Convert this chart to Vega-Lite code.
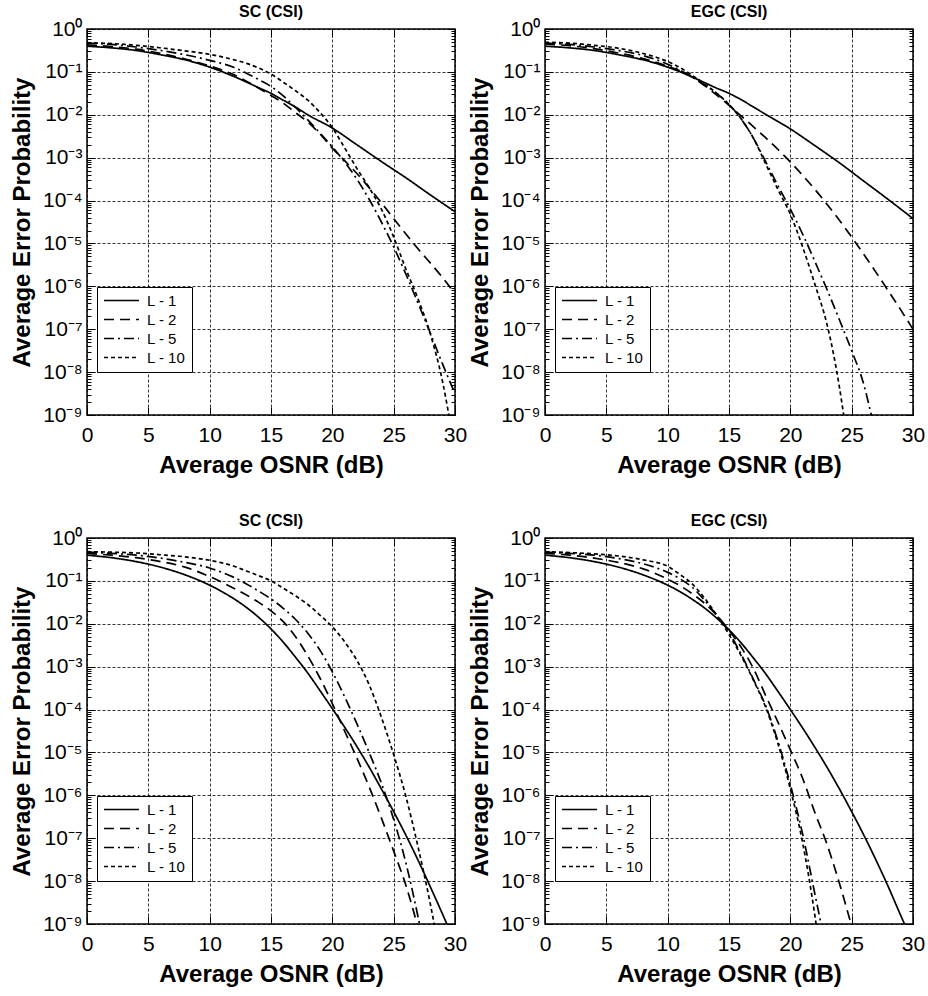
{
"$schema": "https://vega.github.io/schema/vega-lite/v6.json",
"background": "white",
"padding": {"left": 9, "top": 3, "right": 5, "bottom": 5},
"config": {
  "font": "Liberation Sans",
  "view": {"stroke": "black", "strokeWidth": 1.5},
  "axis": {"labelFont": "Liberation Sans", "labelFontSize": 21, "labelColor": "black", "titleFont": "Liberation Sans", "titleFontSize": 24, "titleFontWeight": "bold", "titleColor": "black", "tickColor": "black", "tickWidth": 1, "domain": false, "labelOverlap": false, "labelFlush": false, "gridColor": "black", "gridDash": [3, 2], "gridWidth": 0.8},
  "title": {"font": "Liberation Sans", "fontSize": 16, "fontWeight": "bold", "color": "black", "offset": -2},
  "legend": {"title": null, "orient": "none", "legendX": 10, "legendY": 258, "fillColor": "white", "strokeColor": "black", "padding": 6, "symbolType": "stroke", "symbolSize": 1225, "symbolStrokeWidth": 1.6, "symbolStrokeColor": "black", "labelFont": "Liberation Sans", "labelFontSize": 15, "labelColor": "black", "rowPadding": 3, "labelOffset": 7, "clipHeight": 15}
},
"datasets": {
"TL": [
{"L":"L - 1","x":0,"y":0.398},{"L":"L - 1","x":2,"y":0.363},{"L":"L - 1","x":4,"y":0.316},{"L":"L - 1","x":6,"y":0.251},{"L":"L - 1","x":8,"y":0.191},{"L":"L - 1","x":10,"y":0.129},{"L":"L - 1","x":12,"y":0.0776},{"L":"L - 1","x":14,"y":0.0427},{"L":"L - 1","x":15,"y":0.0316},{"L":"L - 1","x":16,"y":0.0219},{"L":"L - 1","x":17,"y":0.0151},{"L":"L - 1","x":18,"y":0.01},{"L":"L - 1","x":20,"y":0.0049},{"L":"L - 1","x":22,"y":0.002},{"L":"L - 1","x":24,"y":8.13e-4},{"L":"L - 1","x":26,"y":3.39e-4},{"L":"L - 1","x":28,"y":1.35e-4},{"L":"L - 1","x":30,"y":5.5e-5},
{"L":"L - 2","x":0,"y":0.427},{"L":"L - 2","x":2,"y":0.389},{"L":"L - 2","x":4,"y":0.339},{"L":"L - 2","x":6,"y":0.269},{"L":"L - 2","x":8,"y":0.2},{"L":"L - 2","x":10,"y":0.138},{"L":"L - 2","x":12,"y":0.0851},{"L":"L - 2","x":14,"y":0.0417},{"L":"L - 2","x":15,"y":0.0282},{"L":"L - 2","x":16,"y":0.0186},{"L":"L - 2","x":17,"y":0.0112},{"L":"L - 2","x":18,"y":0.00676},{"L":"L - 2","x":19,"y":0.00355},{"L":"L - 2","x":20,"y":0.00166},{"L":"L - 2","x":21,"y":8.51e-4},{"L":"L - 2","x":22,"y":4.27e-4},{"L":"L - 2","x":23,"y":2e-4},{"L":"L - 2","x":24,"y":8.91e-5},{"L":"L - 2","x":25,"y":3.8e-5},{"L":"L - 2","x":26,"y":1.66e-5},{"L":"L - 2","x":27,"y":7.41e-6},{"L":"L - 2","x":28,"y":3.47e-6},{"L":"L - 2","x":29,"y":1.58e-6},{"L":"L - 2","x":30,"y":6.76e-7},
{"L":"L - 5","x":0,"y":0.468},{"L":"L - 5","x":2,"y":0.437},{"L":"L - 5","x":4,"y":0.38},{"L":"L - 5","x":6,"y":0.316},{"L":"L - 5","x":8,"y":0.251},{"L":"L - 5","x":10,"y":0.186},{"L":"L - 5","x":12,"y":0.126},{"L":"L - 5","x":13,"y":0.0933},{"L":"L - 5","x":14,"y":0.0661},{"L":"L - 5","x":15,"y":0.0457},{"L":"L - 5","x":16,"y":0.0275},{"L":"L - 5","x":17,"y":0.0148},{"L":"L - 5","x":18,"y":0.00759},{"L":"L - 5","x":19,"y":0.00372},{"L":"L - 5","x":20,"y":0.00178},{"L":"L - 5","x":21,"y":7.94e-4},{"L":"L - 5","x":22,"y":3.16e-4},{"L":"L - 5","x":23,"y":1.07e-4},{"L":"L - 5","x":24,"y":3.16e-5},{"L":"L - 5","x":25,"y":8.32e-6},{"L":"L - 5","x":26,"y":1.91e-6},{"L":"L - 5","x":27,"y":3.98e-7},{"L":"L - 5","x":28,"y":7.94e-8},{"L":"L - 5","x":29,"y":1.51e-8},{"L":"L - 5","x":30,"y":3.16e-9},
{"L":"L - 10","x":0,"y":0.479},{"L":"L - 10","x":2,"y":0.457},{"L":"L - 10","x":4,"y":0.417},{"L":"L - 10","x":6,"y":0.363},{"L":"L - 10","x":8,"y":0.309},{"L":"L - 10","x":10,"y":0.257},{"L":"L - 10","x":12,"y":0.191},{"L":"L - 10","x":13,"y":0.158},{"L":"L - 10","x":14,"y":0.123},{"L":"L - 10","x":15,"y":0.0891},{"L":"L - 10","x":16,"y":0.0575},{"L":"L - 10","x":17,"y":0.0363},{"L":"L - 10","x":18,"y":0.0219},{"L":"L - 10","x":19,"y":0.0112},{"L":"L - 10","x":20,"y":0.00501},{"L":"L - 10","x":21,"y":0.0017},{"L":"L - 10","x":22,"y":5.62e-4},{"L":"L - 10","x":23,"y":2e-4},{"L":"L - 10","x":24,"y":6.31e-5},{"L":"L - 10","x":25,"y":1.41e-5},{"L":"L - 10","x":26,"y":2.51e-6},{"L":"L - 10","x":27,"y":5.01e-7},{"L":"L - 10","x":28,"y":7.59e-8},{"L":"L - 10","x":29,"y":5.75e-9},{"L":"L - 10","x":29.5,"y":1e-9},{"L":"L - 10","x":30,"y":1.58e-10}
],
"TR": [
{"L":"L - 1","x":0,"y":0.398},{"L":"L - 1","x":2,"y":0.363},{"L":"L - 1","x":4,"y":0.316},{"L":"L - 1","x":6,"y":0.251},{"L":"L - 1","x":8,"y":0.191},{"L":"L - 1","x":10,"y":0.129},{"L":"L - 1","x":12,"y":0.0759},{"L":"L - 1","x":13,"y":0.0562},{"L":"L - 1","x":14,"y":0.0417},{"L":"L - 1","x":15,"y":0.0316},{"L":"L - 1","x":16,"y":0.0224},{"L":"L - 1","x":17,"y":0.0151},{"L":"L - 1","x":18,"y":0.0102},{"L":"L - 1","x":20,"y":0.00468},{"L":"L - 1","x":22,"y":0.00191},{"L":"L - 1","x":24,"y":7.59e-4},{"L":"L - 1","x":26,"y":2.82e-4},{"L":"L - 1","x":28,"y":1.05e-4},{"L":"L - 1","x":30,"y":3.8e-5},
{"L":"L - 2","x":0,"y":0.447},{"L":"L - 2","x":2,"y":0.407},{"L":"L - 2","x":4,"y":0.347},{"L":"L - 2","x":6,"y":0.275},{"L":"L - 2","x":8,"y":0.204},{"L":"L - 2","x":10,"y":0.135},{"L":"L - 2","x":12,"y":0.0759},{"L":"L - 2","x":13,"y":0.0479},{"L":"L - 2","x":14,"y":0.0288},{"L":"L - 2","x":15,"y":0.0166},{"L":"L - 2","x":16,"y":0.00933},{"L":"L - 2","x":17,"y":0.00525},{"L":"L - 2","x":18,"y":0.00288},{"L":"L - 2","x":19,"y":0.00155},{"L":"L - 2","x":20,"y":7.94e-4},{"L":"L - 2","x":21,"y":3.89e-4},{"L":"L - 2","x":22,"y":1.82e-4},{"L":"L - 2","x":23,"y":8.13e-5},{"L":"L - 2","x":24,"y":3.47e-5},{"L":"L - 2","x":25,"y":1.41e-5},{"L":"L - 2","x":26,"y":5.5e-6},{"L":"L - 2","x":27,"y":2.09e-6},{"L":"L - 2","x":28,"y":7.76e-7},{"L":"L - 2","x":29,"y":2.82e-7},{"L":"L - 2","x":30,"y":1e-7},
{"L":"L - 5","x":0,"y":0.468},{"L":"L - 5","x":2,"y":0.437},{"L":"L - 5","x":4,"y":0.38},{"L":"L - 5","x":6,"y":0.316},{"L":"L - 5","x":8,"y":0.24},{"L":"L - 5","x":10,"y":0.151},{"L":"L - 5","x":11,"y":0.11},{"L":"L - 5","x":12,"y":0.0759},{"L":"L - 5","x":13,"y":0.0501},{"L":"L - 5","x":14,"y":0.0316},{"L":"L - 5","x":15,"y":0.0174},{"L":"L - 5","x":16,"y":0.00794},{"L":"L - 5","x":17,"y":0.00282},{"L":"L - 5","x":18,"y":7.94e-4},{"L":"L - 5","x":19,"y":2.19e-4},{"L":"L - 5","x":20,"y":6.31e-5},{"L":"L - 5","x":21,"y":1.66e-5},{"L":"L - 5","x":22,"y":3.8e-6},{"L":"L - 5","x":23,"y":8.32e-7},{"L":"L - 5","x":24,"y":1.66e-7},{"L":"L - 5","x":25,"y":3.16e-8},{"L":"L - 5","x":26,"y":5.01e-9},{"L":"L - 5","x":26.6,"y":1e-9},{"L":"L - 5","x":27,"y":3.16e-10},
{"L":"L - 10","x":0,"y":0.49},{"L":"L - 10","x":2,"y":0.468},{"L":"L - 10","x":4,"y":0.417},{"L":"L - 10","x":6,"y":0.355},{"L":"L - 10","x":8,"y":0.269},{"L":"L - 10","x":10,"y":0.174},{"L":"L - 10","x":11,"y":0.126},{"L":"L - 10","x":12,"y":0.0832},{"L":"L - 10","x":13,"y":0.0525},{"L":"L - 10","x":14,"y":0.0316},{"L":"L - 10","x":15,"y":0.0174},{"L":"L - 10","x":16,"y":0.00794},{"L":"L - 10","x":17,"y":0.00282},{"L":"L - 10","x":18,"y":7.08e-4},{"L":"L - 10","x":19,"y":1.78e-4},{"L":"L - 10","x":20,"y":4.79e-5},{"L":"L - 10","x":21,"y":8.32e-6},{"L":"L - 10","x":22,"y":1.12e-6},{"L":"L - 10","x":23,"y":1.26e-7},{"L":"L - 10","x":23.5,"y":2.82e-8},{"L":"L - 10","x":24,"y":4.47e-9},{"L":"L - 10","x":24.5,"y":5.01e-10}
],
"BL": [
{"L":"L - 1","x":0,"y":0.398},{"L":"L - 1","x":2,"y":0.347},{"L":"L - 1","x":4,"y":0.282},{"L":"L - 1","x":6,"y":0.209},{"L":"L - 1","x":8,"y":0.138},{"L":"L - 1","x":10,"y":0.0794},{"L":"L - 1","x":11,"y":0.0562},{"L":"L - 1","x":12,"y":0.038},{"L":"L - 1","x":13,"y":0.024},{"L":"L - 1","x":14,"y":0.0141},{"L":"L - 1","x":15,"y":0.00759},{"L":"L - 1","x":16,"y":0.00372},{"L":"L - 1","x":17,"y":0.00166},{"L":"L - 1","x":18,"y":7.08e-4},{"L":"L - 1","x":19,"y":2.75e-4},{"L":"L - 1","x":20,"y":1.05e-4},{"L":"L - 1","x":21,"y":3.89e-5},{"L":"L - 1","x":22,"y":1.38e-5},{"L":"L - 1","x":23,"y":4.57e-6},{"L":"L - 1","x":24,"y":1.41e-6},{"L":"L - 1","x":25,"y":4.17e-7},{"L":"L - 1","x":26,"y":1.17e-7},{"L":"L - 1","x":27,"y":3.02e-8},{"L":"L - 1","x":28,"y":7.24e-9},{"L":"L - 1","x":29,"y":1.66e-9},{"L":"L - 1","x":30,"y":3.63e-10},
{"L":"L - 2","x":0,"y":0.437},{"L":"L - 2","x":2,"y":0.398},{"L":"L - 2","x":4,"y":0.347},{"L":"L - 2","x":6,"y":0.282},{"L":"L - 2","x":8,"y":0.209},{"L":"L - 2","x":10,"y":0.126},{"L":"L - 2","x":11,"y":0.0933},{"L":"L - 2","x":12,"y":0.0661},{"L":"L - 2","x":13,"y":0.0468},{"L":"L - 2","x":14,"y":0.0316},{"L":"L - 2","x":15,"y":0.02},{"L":"L - 2","x":16,"y":0.0112},{"L":"L - 2","x":17,"y":0.00501},{"L":"L - 2","x":18,"y":0.00178},{"L":"L - 2","x":19,"y":5.37e-4},{"L":"L - 2","x":20,"y":1.38e-4},{"L":"L - 2","x":21,"y":3.16e-5},{"L":"L - 2","x":22,"y":7.41e-6},{"L":"L - 2","x":23,"y":1.58e-6},{"L":"L - 2","x":24,"y":2.95e-7},{"L":"L - 2","x":25,"y":5.01e-8},{"L":"L - 2","x":26,"y":7.94e-9},{"L":"L - 2","x":27,"y":7.94e-10},
{"L":"L - 5","x":0,"y":0.468},{"L":"L - 5","x":2,"y":0.437},{"L":"L - 5","x":4,"y":0.398},{"L":"L - 5","x":6,"y":0.339},{"L":"L - 5","x":8,"y":0.269},{"L":"L - 5","x":10,"y":0.2},{"L":"L - 5","x":11,"y":0.158},{"L":"L - 5","x":12,"y":0.12},{"L":"L - 5","x":13,"y":0.0851},{"L":"L - 5","x":14,"y":0.0575},{"L":"L - 5","x":15,"y":0.038},{"L":"L - 5","x":16,"y":0.0229},{"L":"L - 5","x":17,"y":0.0126},{"L":"L - 5","x":18,"y":0.00603},{"L":"L - 5","x":19,"y":0.0024},{"L":"L - 5","x":20,"y":7.59e-4},{"L":"L - 5","x":21,"y":2e-4},{"L":"L - 5","x":22,"y":4.68e-5},{"L":"L - 5","x":23,"y":1e-5},{"L":"L - 5","x":24,"y":1.91e-6},{"L":"L - 5","x":25,"y":2.75e-7},{"L":"L - 5","x":26,"y":2.63e-8},{"L":"L - 5","x":27,"y":1.41e-9},{"L":"L - 5","x":27.5,"y":2.82e-10},
{"L":"L - 10","x":0,"y":0.479},{"L":"L - 10","x":2,"y":0.468},{"L":"L - 10","x":4,"y":0.447},{"L":"L - 10","x":6,"y":0.407},{"L":"L - 10","x":8,"y":0.363},{"L":"L - 10","x":10,"y":0.302},{"L":"L - 10","x":11,"y":0.263},{"L":"L - 10","x":12,"y":0.219},{"L":"L - 10","x":13,"y":0.17},{"L":"L - 10","x":14,"y":0.132},{"L":"L - 10","x":15,"y":0.1},{"L":"L - 10","x":16,"y":0.0676},{"L":"L - 10","x":17,"y":0.0447},{"L":"L - 10","x":18,"y":0.0282},{"L":"L - 10","x":19,"y":0.0158},{"L":"L - 10","x":20,"y":0.00851},{"L":"L - 10","x":21,"y":0.0038},{"L":"L - 10","x":22,"y":0.00141},{"L":"L - 10","x":23,"y":3.8e-4},{"L":"L - 10","x":24,"y":6.61e-5},{"L":"L - 10","x":25,"y":8.91e-6},{"L":"L - 10","x":26,"y":9.33e-7},{"L":"L - 10","x":27,"y":6.03e-8},{"L":"L - 10","x":28,"y":2.82e-9},{"L":"L - 10","x":28.5,"y":5.01e-10}
],
"BR": [
{"L":"L - 1","x":0,"y":0.398},{"L":"L - 1","x":2,"y":0.347},{"L":"L - 1","x":4,"y":0.282},{"L":"L - 1","x":6,"y":0.209},{"L":"L - 1","x":8,"y":0.138},{"L":"L - 1","x":10,"y":0.0794},{"L":"L - 1","x":11,"y":0.0562},{"L":"L - 1","x":12,"y":0.0372},{"L":"L - 1","x":13,"y":0.0234},{"L":"L - 1","x":14,"y":0.0135},{"L":"L - 1","x":15,"y":0.00724},{"L":"L - 1","x":16,"y":0.00355},{"L":"L - 1","x":17,"y":0.00158},{"L":"L - 1","x":18,"y":6.76e-4},{"L":"L - 1","x":19,"y":2.63e-4},{"L":"L - 1","x":20,"y":1e-4},{"L":"L - 1","x":21,"y":3.72e-5},{"L":"L - 1","x":22,"y":1.32e-5},{"L":"L - 1","x":23,"y":4.47e-6},{"L":"L - 1","x":24,"y":1.41e-6},{"L":"L - 1","x":25,"y":4.17e-7},{"L":"L - 1","x":26,"y":1.17e-7},{"L":"L - 1","x":27,"y":3.02e-8},{"L":"L - 1","x":28,"y":7.24e-9},{"L":"L - 1","x":29,"y":1.58e-9},{"L":"L - 1","x":30,"y":3.55e-10},
{"L":"L - 2","x":0,"y":0.437},{"L":"L - 2","x":2,"y":0.398},{"L":"L - 2","x":4,"y":0.339},{"L":"L - 2","x":6,"y":0.269},{"L":"L - 2","x":8,"y":0.191},{"L":"L - 2","x":10,"y":0.11},{"L":"L - 2","x":11,"y":0.0776},{"L":"L - 2","x":12,"y":0.0501},{"L":"L - 2","x":13,"y":0.0302},{"L":"L - 2","x":14,"y":0.0158},{"L":"L - 2","x":15,"y":0.00708},{"L":"L - 2","x":16,"y":0.00282},{"L":"L - 2","x":17,"y":8.91e-4},{"L":"L - 2","x":18,"y":2.09e-4},{"L":"L - 2","x":19,"y":5.01e-5},{"L":"L - 2","x":20,"y":1.15e-5},{"L":"L - 2","x":21,"y":2.51e-6},{"L":"L - 2","x":22,"y":3.98e-7},{"L":"L - 2","x":23,"y":7.08e-8},{"L":"L - 2","x":24,"y":8.91e-9},{"L":"L - 2","x":25,"y":8.91e-10},
{"L":"L - 5","x":0,"y":0.468},{"L":"L - 5","x":2,"y":0.437},{"L":"L - 5","x":4,"y":0.398},{"L":"L - 5","x":6,"y":0.331},{"L":"L - 5","x":8,"y":0.251},{"L":"L - 5","x":10,"y":0.158},{"L":"L - 5","x":11,"y":0.112},{"L":"L - 5","x":12,"y":0.0708},{"L":"L - 5","x":13,"y":0.0355},{"L":"L - 5","x":14,"y":0.0158},{"L":"L - 5","x":15,"y":0.00631},{"L":"L - 5","x":16,"y":0.00191},{"L":"L - 5","x":17,"y":5.01e-4},{"L":"L - 5","x":18,"y":1.2e-4},{"L":"L - 5","x":19,"y":1.78e-5},{"L":"L - 5","x":20,"y":1.78e-6},{"L":"L - 5","x":21,"y":1.26e-7},{"L":"L - 5","x":22,"y":5.01e-9},{"L":"L - 5","x":22.5,"y":1e-9},{"L":"L - 5","x":23,"y":1.58e-10},
{"L":"L - 10","x":0,"y":0.479},{"L":"L - 10","x":2,"y":0.457},{"L":"L - 10","x":4,"y":0.427},{"L":"L - 10","x":6,"y":0.38},{"L":"L - 10","x":8,"y":0.309},{"L":"L - 10","x":10,"y":0.219},{"L":"L - 10","x":11,"y":0.141},{"L":"L - 10","x":12,"y":0.0851},{"L":"L - 10","x":13,"y":0.0398},{"L":"L - 10","x":14,"y":0.0158},{"L":"L - 10","x":15,"y":0.00562},{"L":"L - 10","x":16,"y":0.00178},{"L":"L - 10","x":17,"y":4.79e-4},{"L":"L - 10","x":18,"y":1.12e-4},{"L":"L - 10","x":19,"y":1.58e-5},{"L":"L - 10","x":20,"y":1.41e-6},{"L":"L - 10","x":21,"y":7.94e-8},{"L":"L - 10","x":22,"y":1.58e-9},{"L":"L - 10","x":22.2,"y":6.31e-10}
]
},
"spacing": 34,
"resolve": {"scale": {"strokeDash": "independent", "x": "independent", "y": "independent"}, "legend": {"strokeDash": "independent"}},
"vconcat": [
{"hconcat": [
  {"width": 368, "height": 386, "title": "SC (CSI)", "data": {"name": "TL"},
   "layer": [
    {"mark": {"type": "line", "clip": true, "interpolate": "monotone", "color": "black", "strokeWidth": 1.7, "strokeCap": "butt"},
     "encoding": {
      "x": {"field": "x", "type": "quantitative", "scale": {"domain": [0, 30], "nice": false, "zero": false}, "axis": {"title": "Average OSNR (dB)", "titlePadding": 8, "values": [0,5,10,15,20,25,30], "tickSize": -8, "labelPadding": 17, "grid": true}},
      "y": {"field": "y", "type": "quantitative", "scale": {"type": "log", "domain": [1e-9, 1], "nice": false}, "axis": {"title": "Average Error Probability", "titlePadding": 8, "values": [1e-9,2e-9,3e-9,4e-9,5e-9,6e-9,7e-9,8e-9,9e-9,1e-8,2e-8,3e-8,4e-8,5e-8,6e-8,7e-8,8e-8,9e-8,1e-7,2e-7,3e-7,4e-7,5e-7,6e-7,7e-7,8e-7,9e-7,1e-6,2e-6,3e-6,4e-6,5e-6,6e-6,7e-6,8e-6,9e-6,1e-5,2e-5,3e-5,4e-5,5e-5,6e-5,7e-5,8e-5,9e-5,1e-4,2e-4,3e-4,4e-4,5e-4,6e-4,7e-4,8e-4,9e-4,0.001,0.002,0.003,0.004,0.005,0.006,0.007,0.008,0.009,0.01,0.02,0.03,0.04,0.05,0.06,0.07,0.08,0.09,0.1,0.2,0.3,0.4,0.5,0.6,0.7,0.8,0.9,1], "labelExpr": "abs(log(datum.value)/LN10-round(log(datum.value)/LN10))<0.001 ? '10' + (datum.value < 0.5 ? '⁻' : '') + substring('⁰¹²³⁴⁵⁶⁷⁸⁹', abs(round(log(datum.value)/LN10)), abs(round(log(datum.value)/LN10))+1) : ''", "tickSize": {"condition": {"test": "abs(log(datum.value)/LN10-round(log(datum.value)/LN10))<0.001", "value": -8}, "value": -4}, "gridOpacity": {"condition": {"test": "abs(log(datum.value)/LN10-round(log(datum.value)/LN10))<0.001", "value": 1}, "value": 0}, "grid": true, "labelPadding": 13}},
      "strokeDash": {"field": "L", "type": "nominal", "scale": {"domain": ["L - 1","L - 2","L - 5","L - 10"], "range": [[1,0],[10,6],[10,4,2,4],[4,3]]}}
     }},
    {"mark": {"type": "line", "opacity": 0, "clip": true},
     "encoding": {
      "x": {"field": "x", "type": "quantitative", "scale": {"domain": [0, 30], "nice": false, "zero": false}, "axis": {"orient": "top", "title": null, "labels": false, "grid": false, "values": [0,5,10,15,20,25,30], "tickSize": -8}},
      "y": {"field": "y", "type": "quantitative", "scale": {"type": "log", "domain": [1e-9, 1], "nice": false}, "axis": {"orient": "right", "title": null, "labels": false, "grid": false, "values": [1e-9,2e-9,3e-9,4e-9,5e-9,6e-9,7e-9,8e-9,9e-9,1e-8,2e-8,3e-8,4e-8,5e-8,6e-8,7e-8,8e-8,9e-8,1e-7,2e-7,3e-7,4e-7,5e-7,6e-7,7e-7,8e-7,9e-7,1e-6,2e-6,3e-6,4e-6,5e-6,6e-6,7e-6,8e-6,9e-6,1e-5,2e-5,3e-5,4e-5,5e-5,6e-5,7e-5,8e-5,9e-5,1e-4,2e-4,3e-4,4e-4,5e-4,6e-4,7e-4,8e-4,9e-4,0.001,0.002,0.003,0.004,0.005,0.006,0.007,0.008,0.009,0.01,0.02,0.03,0.04,0.05,0.06,0.07,0.08,0.09,0.1,0.2,0.3,0.4,0.5,0.6,0.7,0.8,0.9,1], "tickSize": {"condition": {"test": "abs(log(datum.value)/LN10-round(log(datum.value)/LN10))<0.001", "value": -8}, "value": -4}}},
      "detail": {"field": "L"}
     }}
   ],
   "resolve": {"axis": {"x": "independent", "y": "independent"}}
  },
  {"width": 368, "height": 386, "title": "EGC (CSI)", "data": {"name": "TR"},
   "layer": [
    {"mark": {"type": "line", "clip": true, "interpolate": "monotone", "color": "black", "strokeWidth": 1.7, "strokeCap": "butt"},
     "encoding": {
      "x": {"field": "x", "type": "quantitative", "scale": {"domain": [0, 30], "nice": false, "zero": false}, "axis": {"title": "Average OSNR (dB)", "titlePadding": 8, "values": [0,5,10,15,20,25,30], "tickSize": -8, "labelPadding": 17, "grid": true}},
      "y": {"field": "y", "type": "quantitative", "scale": {"type": "log", "domain": [1e-9, 1], "nice": false}, "axis": {"title": "Average Error Probability", "titlePadding": 8, "values": [1e-9,2e-9,3e-9,4e-9,5e-9,6e-9,7e-9,8e-9,9e-9,1e-8,2e-8,3e-8,4e-8,5e-8,6e-8,7e-8,8e-8,9e-8,1e-7,2e-7,3e-7,4e-7,5e-7,6e-7,7e-7,8e-7,9e-7,1e-6,2e-6,3e-6,4e-6,5e-6,6e-6,7e-6,8e-6,9e-6,1e-5,2e-5,3e-5,4e-5,5e-5,6e-5,7e-5,8e-5,9e-5,1e-4,2e-4,3e-4,4e-4,5e-4,6e-4,7e-4,8e-4,9e-4,0.001,0.002,0.003,0.004,0.005,0.006,0.007,0.008,0.009,0.01,0.02,0.03,0.04,0.05,0.06,0.07,0.08,0.09,0.1,0.2,0.3,0.4,0.5,0.6,0.7,0.8,0.9,1], "labelExpr": "abs(log(datum.value)/LN10-round(log(datum.value)/LN10))<0.001 ? '10' + (datum.value < 0.5 ? '⁻' : '') + substring('⁰¹²³⁴⁵⁶⁷⁸⁹', abs(round(log(datum.value)/LN10)), abs(round(log(datum.value)/LN10))+1) : ''", "tickSize": {"condition": {"test": "abs(log(datum.value)/LN10-round(log(datum.value)/LN10))<0.001", "value": -8}, "value": -4}, "gridOpacity": {"condition": {"test": "abs(log(datum.value)/LN10-round(log(datum.value)/LN10))<0.001", "value": 1}, "value": 0}, "grid": true, "labelPadding": 13}},
      "strokeDash": {"field": "L", "type": "nominal", "scale": {"domain": ["L - 1","L - 2","L - 5","L - 10"], "range": [[1,0],[10,6],[10,4,2,4],[4,3]]}}
     }},
    {"mark": {"type": "line", "opacity": 0, "clip": true},
     "encoding": {
      "x": {"field": "x", "type": "quantitative", "scale": {"domain": [0, 30], "nice": false, "zero": false}, "axis": {"orient": "top", "title": null, "labels": false, "grid": false, "values": [0,5,10,15,20,25,30], "tickSize": -8}},
      "y": {"field": "y", "type": "quantitative", "scale": {"type": "log", "domain": [1e-9, 1], "nice": false}, "axis": {"orient": "right", "title": null, "labels": false, "grid": false, "values": [1e-9,2e-9,3e-9,4e-9,5e-9,6e-9,7e-9,8e-9,9e-9,1e-8,2e-8,3e-8,4e-8,5e-8,6e-8,7e-8,8e-8,9e-8,1e-7,2e-7,3e-7,4e-7,5e-7,6e-7,7e-7,8e-7,9e-7,1e-6,2e-6,3e-6,4e-6,5e-6,6e-6,7e-6,8e-6,9e-6,1e-5,2e-5,3e-5,4e-5,5e-5,6e-5,7e-5,8e-5,9e-5,1e-4,2e-4,3e-4,4e-4,5e-4,6e-4,7e-4,8e-4,9e-4,0.001,0.002,0.003,0.004,0.005,0.006,0.007,0.008,0.009,0.01,0.02,0.03,0.04,0.05,0.06,0.07,0.08,0.09,0.1,0.2,0.3,0.4,0.5,0.6,0.7,0.8,0.9,1], "tickSize": {"condition": {"test": "abs(log(datum.value)/LN10-round(log(datum.value)/LN10))<0.001", "value": -8}, "value": -4}}},
      "detail": {"field": "L"}
     }}
   ],
   "resolve": {"axis": {"x": "independent", "y": "independent"}}
  }
 ],
 "spacing": 90, "bounds": "flush",
 "resolve": {"scale": {"strokeDash": "independent", "x": "independent", "y": "independent"}, "legend": {"strokeDash": "independent"}}
},
{"hconcat": [
  {"width": 368, "height": 386, "title": "SC (CSI)", "data": {"name": "BL"},
   "layer": [
    {"mark": {"type": "line", "clip": true, "interpolate": "monotone", "color": "black", "strokeWidth": 1.7, "strokeCap": "butt"},
     "encoding": {
      "x": {"field": "x", "type": "quantitative", "scale": {"domain": [0, 30], "nice": false, "zero": false}, "axis": {"title": "Average OSNR (dB)", "titlePadding": 8, "values": [0,5,10,15,20,25,30], "tickSize": -8, "labelPadding": 17, "grid": true}},
      "y": {"field": "y", "type": "quantitative", "scale": {"type": "log", "domain": [1e-9, 1], "nice": false}, "axis": {"title": "Average Error Probability", "titlePadding": 8, "values": [1e-9,2e-9,3e-9,4e-9,5e-9,6e-9,7e-9,8e-9,9e-9,1e-8,2e-8,3e-8,4e-8,5e-8,6e-8,7e-8,8e-8,9e-8,1e-7,2e-7,3e-7,4e-7,5e-7,6e-7,7e-7,8e-7,9e-7,1e-6,2e-6,3e-6,4e-6,5e-6,6e-6,7e-6,8e-6,9e-6,1e-5,2e-5,3e-5,4e-5,5e-5,6e-5,7e-5,8e-5,9e-5,1e-4,2e-4,3e-4,4e-4,5e-4,6e-4,7e-4,8e-4,9e-4,0.001,0.002,0.003,0.004,0.005,0.006,0.007,0.008,0.009,0.01,0.02,0.03,0.04,0.05,0.06,0.07,0.08,0.09,0.1,0.2,0.3,0.4,0.5,0.6,0.7,0.8,0.9,1], "labelExpr": "abs(log(datum.value)/LN10-round(log(datum.value)/LN10))<0.001 ? '10' + (datum.value < 0.5 ? '⁻' : '') + substring('⁰¹²³⁴⁵⁶⁷⁸⁹', abs(round(log(datum.value)/LN10)), abs(round(log(datum.value)/LN10))+1) : ''", "tickSize": {"condition": {"test": "abs(log(datum.value)/LN10-round(log(datum.value)/LN10))<0.001", "value": -8}, "value": -4}, "gridOpacity": {"condition": {"test": "abs(log(datum.value)/LN10-round(log(datum.value)/LN10))<0.001", "value": 1}, "value": 0}, "grid": true, "labelPadding": 13}},
      "strokeDash": {"field": "L", "type": "nominal", "scale": {"domain": ["L - 1","L - 2","L - 5","L - 10"], "range": [[1,0],[10,6],[10,4,2,4],[4,3]]}}
     }},
    {"mark": {"type": "line", "opacity": 0, "clip": true},
     "encoding": {
      "x": {"field": "x", "type": "quantitative", "scale": {"domain": [0, 30], "nice": false, "zero": false}, "axis": {"orient": "top", "title": null, "labels": false, "grid": false, "values": [0,5,10,15,20,25,30], "tickSize": -8}},
      "y": {"field": "y", "type": "quantitative", "scale": {"type": "log", "domain": [1e-9, 1], "nice": false}, "axis": {"orient": "right", "title": null, "labels": false, "grid": false, "values": [1e-9,2e-9,3e-9,4e-9,5e-9,6e-9,7e-9,8e-9,9e-9,1e-8,2e-8,3e-8,4e-8,5e-8,6e-8,7e-8,8e-8,9e-8,1e-7,2e-7,3e-7,4e-7,5e-7,6e-7,7e-7,8e-7,9e-7,1e-6,2e-6,3e-6,4e-6,5e-6,6e-6,7e-6,8e-6,9e-6,1e-5,2e-5,3e-5,4e-5,5e-5,6e-5,7e-5,8e-5,9e-5,1e-4,2e-4,3e-4,4e-4,5e-4,6e-4,7e-4,8e-4,9e-4,0.001,0.002,0.003,0.004,0.005,0.006,0.007,0.008,0.009,0.01,0.02,0.03,0.04,0.05,0.06,0.07,0.08,0.09,0.1,0.2,0.3,0.4,0.5,0.6,0.7,0.8,0.9,1], "tickSize": {"condition": {"test": "abs(log(datum.value)/LN10-round(log(datum.value)/LN10))<0.001", "value": -8}, "value": -4}}},
      "detail": {"field": "L"}
     }}
   ],
   "resolve": {"axis": {"x": "independent", "y": "independent"}}
  },
  {"width": 368, "height": 386, "title": "EGC (CSI)", "data": {"name": "BR"},
   "layer": [
    {"mark": {"type": "line", "clip": true, "interpolate": "monotone", "color": "black", "strokeWidth": 1.7, "strokeCap": "butt"},
     "encoding": {
      "x": {"field": "x", "type": "quantitative", "scale": {"domain": [0, 30], "nice": false, "zero": false}, "axis": {"title": "Average OSNR (dB)", "titlePadding": 8, "values": [0,5,10,15,20,25,30], "tickSize": -8, "labelPadding": 17, "grid": true}},
      "y": {"field": "y", "type": "quantitative", "scale": {"type": "log", "domain": [1e-9, 1], "nice": false}, "axis": {"title": "Average Error Probability", "titlePadding": 8, "values": [1e-9,2e-9,3e-9,4e-9,5e-9,6e-9,7e-9,8e-9,9e-9,1e-8,2e-8,3e-8,4e-8,5e-8,6e-8,7e-8,8e-8,9e-8,1e-7,2e-7,3e-7,4e-7,5e-7,6e-7,7e-7,8e-7,9e-7,1e-6,2e-6,3e-6,4e-6,5e-6,6e-6,7e-6,8e-6,9e-6,1e-5,2e-5,3e-5,4e-5,5e-5,6e-5,7e-5,8e-5,9e-5,1e-4,2e-4,3e-4,4e-4,5e-4,6e-4,7e-4,8e-4,9e-4,0.001,0.002,0.003,0.004,0.005,0.006,0.007,0.008,0.009,0.01,0.02,0.03,0.04,0.05,0.06,0.07,0.08,0.09,0.1,0.2,0.3,0.4,0.5,0.6,0.7,0.8,0.9,1], "labelExpr": "abs(log(datum.value)/LN10-round(log(datum.value)/LN10))<0.001 ? '10' + (datum.value < 0.5 ? '⁻' : '') + substring('⁰¹²³⁴⁵⁶⁷⁸⁹', abs(round(log(datum.value)/LN10)), abs(round(log(datum.value)/LN10))+1) : ''", "tickSize": {"condition": {"test": "abs(log(datum.value)/LN10-round(log(datum.value)/LN10))<0.001", "value": -8}, "value": -4}, "gridOpacity": {"condition": {"test": "abs(log(datum.value)/LN10-round(log(datum.value)/LN10))<0.001", "value": 1}, "value": 0}, "grid": true, "labelPadding": 13}},
      "strokeDash": {"field": "L", "type": "nominal", "scale": {"domain": ["L - 1","L - 2","L - 5","L - 10"], "range": [[1,0],[10,6],[10,4,2,4],[4,3]]}}
     }},
    {"mark": {"type": "line", "opacity": 0, "clip": true},
     "encoding": {
      "x": {"field": "x", "type": "quantitative", "scale": {"domain": [0, 30], "nice": false, "zero": false}, "axis": {"orient": "top", "title": null, "labels": false, "grid": false, "values": [0,5,10,15,20,25,30], "tickSize": -8}},
      "y": {"field": "y", "type": "quantitative", "scale": {"type": "log", "domain": [1e-9, 1], "nice": false}, "axis": {"orient": "right", "title": null, "labels": false, "grid": false, "values": [1e-9,2e-9,3e-9,4e-9,5e-9,6e-9,7e-9,8e-9,9e-9,1e-8,2e-8,3e-8,4e-8,5e-8,6e-8,7e-8,8e-8,9e-8,1e-7,2e-7,3e-7,4e-7,5e-7,6e-7,7e-7,8e-7,9e-7,1e-6,2e-6,3e-6,4e-6,5e-6,6e-6,7e-6,8e-6,9e-6,1e-5,2e-5,3e-5,4e-5,5e-5,6e-5,7e-5,8e-5,9e-5,1e-4,2e-4,3e-4,4e-4,5e-4,6e-4,7e-4,8e-4,9e-4,0.001,0.002,0.003,0.004,0.005,0.006,0.007,0.008,0.009,0.01,0.02,0.03,0.04,0.05,0.06,0.07,0.08,0.09,0.1,0.2,0.3,0.4,0.5,0.6,0.7,0.8,0.9,1], "tickSize": {"condition": {"test": "abs(log(datum.value)/LN10-round(log(datum.value)/LN10))<0.001", "value": -8}, "value": -4}}},
      "detail": {"field": "L"}
     }}
   ],
   "resolve": {"axis": {"x": "independent", "y": "independent"}}
  }
 ],
 "spacing": 90, "bounds": "flush",
 "resolve": {"scale": {"strokeDash": "independent", "x": "independent", "y": "independent"}, "legend": {"strokeDash": "independent"}}
}
]
}
